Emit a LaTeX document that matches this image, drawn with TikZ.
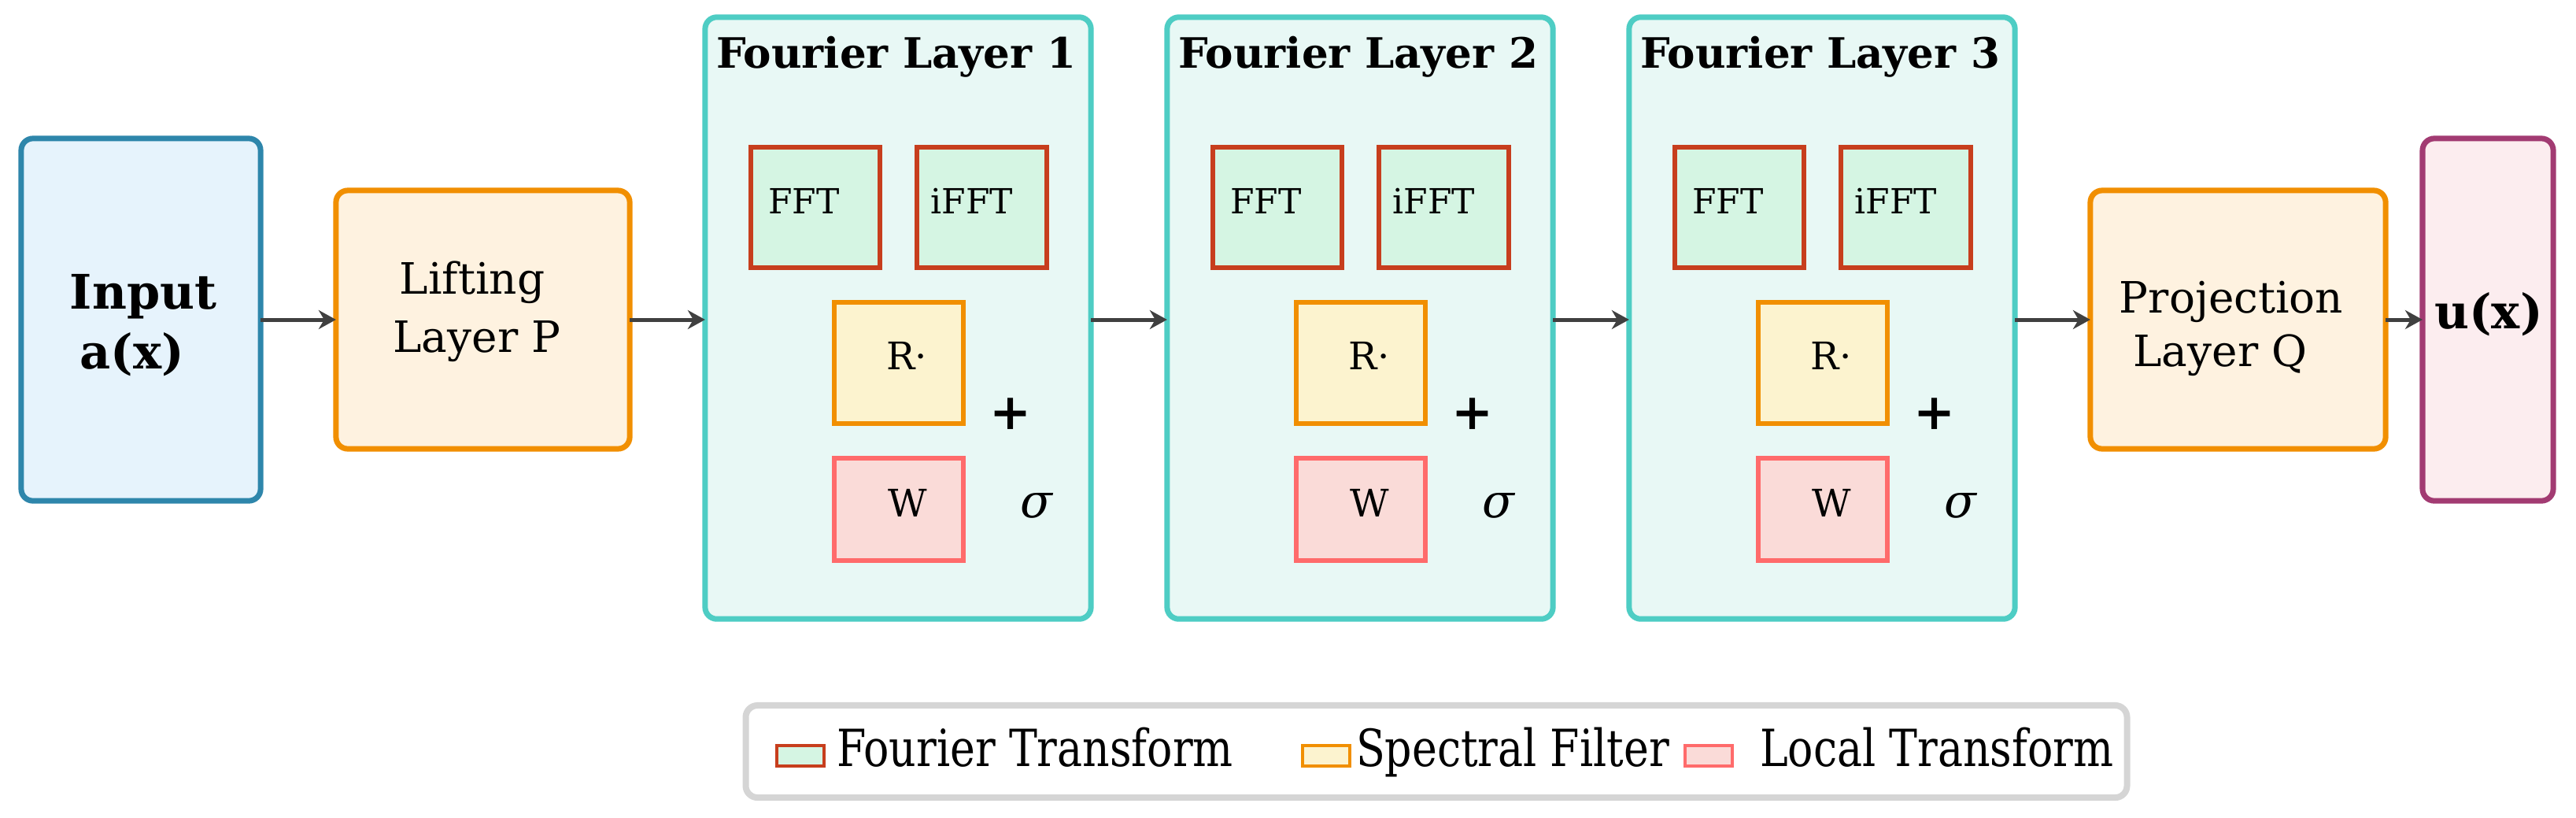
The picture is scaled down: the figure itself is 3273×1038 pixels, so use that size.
\documentclass[tikz,border=0pt]{standalone}
\usepackage{fontspec}
\usepackage{graphicx}
\setmainfont{DejaVu Serif}
\usetikzlibrary{arrows.meta}
\definecolor{inpc}{HTML}{2E86AB}
\definecolor{inpf}{HTML}{E6F3FC}
\definecolor{liftc}{HTML}{F18F01}
\definecolor{liftf}{HTML}{FEF2E0}
\definecolor{flc}{HTML}{4ECDC4}
\definecolor{flf}{HTML}{E8F8F5}
\definecolor{fftc}{HTML}{C73E1D}
\definecolor{fftf}{HTML}{D5F5E3}
\definecolor{rc}{HTML}{F18F01}
\definecolor{rf}{HTML}{FCF3CF}
\definecolor{wc}{HTML}{FF6B6B}
\definecolor{wf}{HTML}{FADBD8}
\definecolor{outc}{HTML}{A23B72}
\definecolor{outf}{HTML}{FCEDEF}
\definecolor{legc}{HTML}{D5D5D5}
\definecolor{arrowc}{HTML}{404040}
\newcommand{\fsz}[1]{\fontsize{#1}{#1}\selectfont}
\newcommand{\legtxt}[1]{\scalebox{0.827}[1]{#1}}
\begin{document}
\begin{tikzpicture}[x=0.01cm,y=-0.01cm,
  bigbox/.style={draw, rounded corners=0.15cm, line width=0.07cm, inner sep=0pt, outer sep=0pt},
  subbox/.style={draw, line width=0.06cm, inner sep=0pt, outer sep=0pt},
  arr/.style={draw=arrowc, line width=0.05cm, -{Stealth[length=0.22cm,width=0.24cm,inset=0.07cm]}},
  lbl/.style={anchor=base, inner sep=0pt, outer sep=0pt},
  legpatch/.style={line width=0.04cm, minimum width=0.6cm, minimum height=0.26cm, inner sep=0pt, outer sep=0pt},
  legtext/.style={anchor=base west, inner sep=0pt, outer sep=0pt, font=\fsz{18.5}},
]
\useasboundingbox (0,0) rectangle (3273,1038);
% input
\node[bigbox, draw=inpc, fill=inpf, minimum width=3.04cm, minimum height=4.6cm] (inp) at (179,406) {};
\node[lbl, font=\bfseries\fsz{17.2}] (inpt1) at (182,392) {Input};
\node[lbl, font=\bfseries\fsz{17.2}] (inpt2) at (167.5,468) {a(x)};
% lifting
\node[bigbox, draw=liftc, fill=liftf, minimum width=3.73cm, minimum height=3.28cm] (lift) at (613.5,406) {};
\node[lbl, font=\fsz{15.6}] (liftt1) at (600,373) {Lifting};
\node[lbl, font=\fsz{15.6}] (liftt2) at (606,447) {Layer P};
% fourier layers
\foreach \i/\cx in {1/1141,2/1728,3/2315}{
  \node[bigbox, draw=flc, fill=flf, minimum width=4.9cm, minimum height=7.64cm] (fl\i) at (\cx,404) {};
  \node[lbl, font=\bfseries\fsz{15.1}] (flt\i) at (\cx-2.5,86) {Fourier Layer \i};
  \node[subbox, draw=fftc, fill=fftf, minimum width=1.64cm, minimum height=1.53cm] (fft\i) at (\cx-105,263.5) {};
  \node[lbl, font=\fsz{12.5}] (fftt\i) at (\cx-119.5,271) {FFT};
  \node[subbox, draw=fftc, fill=fftf, minimum width=1.65cm, minimum height=1.53cm] (ifft\i) at (\cx+106.5,263.5) {};
  \node[lbl, font=\fsz{12.5}] (ifftt\i) at (\cx+94,271) {iFFT};
  \node[subbox, draw=rc, fill=rf, minimum width=1.64cm, minimum height=1.54cm] (r\i) at (\cx+1,461) {};
  \node[lbl, font=\fsz{13.7}] (rt\i) at (\cx+11.5,469) {R·};
  \node[subbox, draw=wc, fill=wf, minimum width=1.64cm, minimum height=1.3cm] (w\i) at (\cx+1,647) {};
  \node[lbl, font=\fsz{13.7}] (wt\i) at (\cx+12,656) {W};
  \node[font=\bfseries\fsz{18}, inner sep=0pt] (plus\i) at (\cx+143,526) {+};
  \node[lbl, font=\itshape\fsz{17}] (sig\i) at (\cx+176,657) {σ};
}
% projection
\node[bigbox, draw=liftc, fill=liftf, minimum width=3.75cm, minimum height=3.28cm] (proj) at (2843.5,406) {};
\node[lbl, font=\fsz{15.6}] (projt1) at (2835,397) {Projection};
\node[lbl, font=\fsz{15.6}] (projt2) at (2821,465) {Layer Q};
% output
\node[bigbox, draw=outc, fill=outf, minimum width=1.66cm, minimum height=4.6cm] (out) at (3161,406) {};
\node[lbl, font=\bfseries\fsz{17.2}] (outt) at (3162,417) {u(x)};
% arrows
\draw[arr] (inp.east) -- (lift.west);
\draw[arr] (lift.east) -- (lift.east -| fl1.west);
\draw[arr] (fl1.east |- lift.east) -- (fl2.west |- lift.east);
\draw[arr] (fl2.east |- lift.east) -- (fl3.west |- lift.east);
\draw[arr] (fl3.east |- proj.west) -- (proj.west);
\draw[arr] (proj.east) -- (out.west);
% legend
\node[draw=legc, fill=white, rounded corners=0.15cm, line width=0.08cm, minimum width=17.54cm, minimum height=1.17cm, inner sep=0pt, outer sep=0pt] (leg) at (1825,954.5) {};
\node[legpatch, draw=fftc, fill=fftf] (p1) at (1017,960) {};
\node[legpatch, draw=rc, fill=rf] (p2) at (1685,960) {};
\node[legpatch, draw=wc, fill=wf] (p3) at (2170.5,960) {};
\node[legtext] (l1) at (1063,973) {\legtxt{Fourier Transform}};
\node[legtext] (l2) at (1723,973) {\legtxt{Spectral Filter}};
\node[legtext] (l3) at (2236,973) {\legtxt{Local Transform}};
\end{tikzpicture}
\end{document}
